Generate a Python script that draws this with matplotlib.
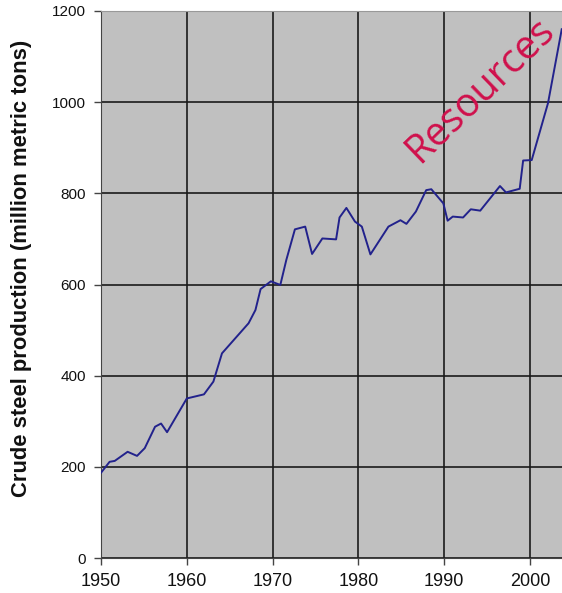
import matplotlib
matplotlib.use("Agg")
import matplotlib.pyplot as plt

years = [1950.0, 1951.0, 1951.6, 1953.1, 1954.2, 1955.1, 1956.3, 1957.0, 1957.7,
         1960.0, 1962.0, 1963.1, 1964.1, 1967.2, 1968.0, 1968.6, 1969.8, 1970.9,
         1971.6, 1972.6, 1973.8, 1974.6, 1975.8, 1977.4, 1977.8, 1978.6, 1979.6,
         1980.4, 1981.4, 1983.5, 1984.9, 1985.6, 1986.7, 1987.9, 1988.5, 1989.9,
         1990.4, 1991.0, 1992.2, 1993.1, 1994.2, 1996.5, 1997.2, 1998.8, 1999.2,
         2000.2, 2002.1, 2003.7]
production = [187, 211, 213, 233, 224, 241, 288, 295, 276,
              350, 359, 387, 449, 515, 544, 590, 607, 599,
              654, 721, 727, 667, 701, 699, 747, 768, 738,
              727, 666, 727, 741, 733, 760, 807, 809, 778,
              740, 749, 747, 765, 762, 816, 802, 810, 872,
              873, 998, 1160]

x_ticks = [1950, 1960, 1970, 1980, 1990, 2000]
y_ticks = [0, 200, 400, 600, 800, 1000, 1200]
y_label = "Crude steel production (million metric tons)"
overlay = "Resources"

plt.rcParams['font.family'] = ['Liberation Sans', 'DejaVu Sans']

fig = plt.figure(figsize=(5.62, 5.93), dpi=100)
W, H = 562, 593
left_px, right_px, top_px, bot_px = 101, 562, 11, 558
ax = fig.add_axes([left_px / W, (H - bot_px) / H, (right_px - left_px) / W, (bot_px - top_px) / H])
ax.set_facecolor('#c0c0c0')

px_per_year = (530 - 101) / 50.0
ax.set_xlim(1950, 1950 + (right_px - left_px) / px_per_year)
ax.set_ylim(0, 1200)

ax.set_xticks(x_ticks)
ax.set_yticks(y_ticks)
ax.grid(True, color='#1a1a1a', linewidth=1.4, alpha=0.85)
ax.set_axisbelow(True)

ax.plot(years, production, color='#22228c', linewidth=1.4, zorder=3)

ax.spines['right'].set_visible(False)
ax.spines['top'].set_color('#999999')
ax.spines['left'].set_color('#444444')
ax.spines['bottom'].set_color('#444444')
ax.tick_params(axis='both', direction='out', length=5, width=1, color='#444444',
               labelcolor='#111111')
ax.tick_params(axis='x', pad=6, labelsize=13)
ax.tick_params(axis='y', pad=6, labelsize=11)

fig.text(22 / W, 1 - 268 / H, y_label, rotation=90, ha='center', va='center',
         fontsize=15.8, fontweight='bold', color='#111111')

fig.text(480 / W, 1 - 91 / H, overlay, rotation=44, ha='center', va='center',
         fontsize=28.5, color='#d0104c', family=['Open Sans', 'DejaVu Sans'])

fig.savefig('out.png', dpi=100)
